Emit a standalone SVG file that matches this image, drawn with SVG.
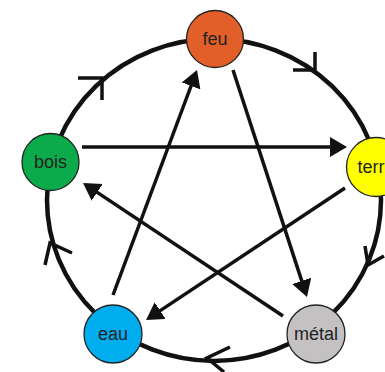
<svg xmlns="http://www.w3.org/2000/svg" width="385" height="372" viewBox="0 0 385 372">
<style>
.ring{fill:none;stroke:#111;stroke-width:4.5}
.chev{fill:none;stroke:#111;stroke-width:3.5;stroke-linecap:butt;stroke-linejoin:miter}
.star{stroke:#111;stroke-width:3.5;fill:none}
.node{stroke:#222;stroke-width:1.3}
.lbl{font-family:"Liberation Sans",Arial,sans-serif;font-size:18px;fill:#222;text-anchor:middle;dominant-baseline:central}
</style>
<defs>
<marker id="ah" markerUnits="userSpaceOnUse" markerWidth="20" markerHeight="22" refX="9" refY="10" orient="auto">
<path d="M0,0 L17,10 L0,20 Z" fill="#111"/>
</marker>
</defs>
<rect width="385" height="372" fill="#fff"/>
<g id="connectors">
<ellipse class="ring" cx="214" cy="200" rx="167" ry="161"/>
<polyline class="chev" points="315,52 315,70 293,70"/>
<polyline class="chev" points="365,246 368,265 384,256"/>
<polyline class="chev" points="230,347 207,358 224,372"/>
<polyline class="chev" points="45,265 50,243 72,253"/>
<polyline class="chev" points="78,78 102,78 102,100"/>
<line class="star" x1="82" y1="147" x2="339" y2="147" marker-end="url(#ah)"/>
<line class="star" x1="345" y1="188" x2="152.7" y2="315.6" marker-end="url(#ah)"/>
<line class="star" x1="113" y1="295" x2="194.2" y2="77.5" marker-end="url(#ah)"/>
<line class="star" x1="233" y1="70" x2="304.5" y2="289.4" marker-end="url(#ah)"/>
<line class="star" x1="283" y1="316" x2="89.7" y2="187.4" marker-end="url(#ah)"/>
</g>
<g id="feu"><circle class="node" cx="215" cy="39" r="28.5" fill="#E35F2A"/><text class="lbl" x="215" y="39">feu</text></g>
<g id="terre"><circle class="node" cx="376" cy="167" r="29.5" fill="#FFFF00"/><text class="lbl" x="376" y="167">terre</text></g>
<g id="metal"><circle class="node" cx="316" cy="334" r="29" fill="#C3C1C2"/><text class="lbl" x="316" y="334">métal</text></g>
<g id="eau"><circle class="node" cx="113" cy="334" r="29" fill="#00AEEF"/><text class="lbl" x="113" y="334">eau</text></g>
<g id="bois"><circle class="node" cx="50.5" cy="162" r="28.5" fill="#0BAA4B"/><text class="lbl" x="50.5" y="162">bois</text></g>
</svg>
